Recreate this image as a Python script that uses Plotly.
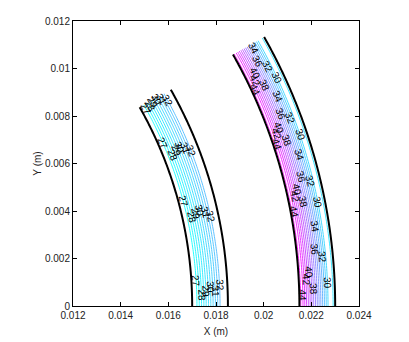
import numpy as np
import plotly.graph_objects as go

# ---- data ----
# radial sample positions (m) across each band and the temperature there
left_radius = [0.01700, 0.01720, 0.01817, 0.01850]
left_temp = [26.1, 27.0, 32.0, 32.6]
right_radius = [0.02150, 0.02165, 0.02270, 0.02300]
right_temp = [45.6, 44.0, 30.0, 28.6]
arc_end_deg = 29.5  # angular extent of both bands

# contour levels
left_line_levels = [27.5, 28.5, 29.5, 30.5, 31.5]
left_label_levels = [27, 28, 29, 30, 31, 32]
right_line_levels = [29, 31, 33, 35, 37, 39, 41, 43, 45]
right_label_levels = [30, 32, 34, 36, 38, 40, 42, 44]

# polar angle (deg) of each inline contour label, per level
left_label_angles = {
    27: [28.8, 23.5, 14.8, 3.5],
    28: [29.0, 21.4, 12.4, 1.4],
    29: [29.2, 21.8, 12.8, 2.0],
    30: [29.3, 22.1, 13.1, 2.5],
    31: [29.0, 21.6, 12.6, 1.9],
    32: [28.5, 21.0, 12.0, 2.8],
}
right_label_angles = {
    30: [25.0, 18.5, 11.1, 2.5],
    32: [26.6, 20.5, 13.5, 5.2],
    34: [29.0, 23.2, 16.5, 8.6],
    36: [27.5, 21.3, 14.1, 6.1],
    38: [24.9, 18.4, 11.4, 1.8],
    40: [26.5, 20.0, 12.9, 3.7],
    42: [25.8, 19.4, 12.2, 2.9],
    44: [24.8, 18.3, 10.5, 1.2],
}

x_ticks = [0.012, 0.014, 0.016, 0.018, 0.020, 0.022, 0.024]
x_ticktext = ["0.012", "0.014", "0.016", "0.018", "0.02", "0.022", "0.024"]
y_ticks = [0, 0.002, 0.004, 0.006, 0.008, 0.010, 0.012]
y_ticktext = ["0", "0.002", "0.004", "0.006", "0.008", "0.01", "0.012"]

CMIN, CMAX = 27.0, 45.0
FONT = "Liberation Sans, Arial, sans-serif"


def cool(v):
    t = (v - CMIN) / (CMAX - CMIN)
    t = min(max(t, 0), 1)
    return "rgb(%d,%d,%d)" % (round(255 * t), round(255 * (1 - t)), 255)


def band(fig, name, radius, temp, line_levels, label_levels, label_angles):
    # polar carpet: a = radius samples, b = angle
    ang_deg = np.linspace(0, arc_end_deg, 90)
    ang = np.radians(ang_deg)
    r = np.array(radius)
    X = np.outer(np.cos(ang), r)
    Y = np.outer(np.sin(ang), r)
    Z = np.tile(np.array(temp), (len(ang), 1))
    fig.add_trace(go.Carpet(
        carpet=name, a=r, b=ang_deg, x=X, y=Y,
        aaxis=dict(showgrid=False, showticklabels="none", showline=False,
                   startline=True, endline=True, startlinecolor="black",
                   endlinecolor="black", startlinewidth=2, endlinewidth=2,
                   smoothing=0, minorgridcount=0, gridcolor="rgba(0,0,0,0)"),
        baxis=dict(showgrid=False, showticklabels="none", showline=False,
                   startline=False, endline=False, smoothing=1,
                   minorgridcount=0, gridcolor="rgba(0,0,0,0)"),
    ))

    all_levels = sorted(line_levels + label_levels)
    step = all_levels[1] - all_levels[0]
    s, e = all_levels[0], all_levels[-1]
    fig.add_trace(go.Contourcarpet(
        carpet=name, a=r, b=ang_deg, z=Z, autocontour=False,
        contours=dict(start=s, end=e, size=step, coloring="lines"),
        colorscale=[[0, cool(s)], [1, cool(e)]],
        line=dict(width=1), opacity=0.85, showscale=False,
    ))

    # inline labels along the contour lines
    order = np.argsort(temp)
    t_sorted = np.array(temp)[order]
    r_sorted = np.array(radius)[order]
    for lvl in label_levels:
        rl = float(np.interp(lvl, t_sorted, r_sorted))
        for a in label_angles[lvl]:
            th = np.radians(a)
            fig.add_annotation(
                x=rl * np.cos(th), y=rl * np.sin(th), xref="x", yref="y",
                text=str(lvl), showarrow=False, textangle=90 - a,
                font=dict(size=10, color="black", family=FONT),
            )


fig = go.Figure()
band(fig, "left", left_radius, left_temp, left_line_levels, left_label_levels,
     left_label_angles)
band(fig, "right", right_radius, right_temp, right_line_levels, right_label_levels,
     right_label_angles)

axis_common = dict(showline=True, linecolor="black", linewidth=1, mirror="ticks",
                   ticks="inside", ticklen=4, tickcolor="black", showgrid=False,
                   zeroline=False, automargin=False,
                   tickfont=dict(size=10, color="#222", family=FONT))

# the page body adds an 8px offset, so the figure is 8px smaller than the window
fig.update_layout(
    width=401, height=334,
    margin=dict(l=65, r=50, t=13, b=36),
    paper_bgcolor="white", plot_bgcolor="white",
    showlegend=False,
    xaxis=dict(range=[0.012, 0.024], tickvals=x_ticks, ticktext=x_ticktext,
               title=dict(text="X (m)", standoff=7,
                          font=dict(size=10, color="#222", family=FONT)),
               **axis_common),
    yaxis=dict(range=[0, 0.012], tickvals=y_ticks, ticktext=y_ticktext,
               title=dict(text="Y (m)", standoff=1,
                          font=dict(size=10, color="#222", family=FONT)),
               **axis_common),
)

fig.write_html("out.html")
